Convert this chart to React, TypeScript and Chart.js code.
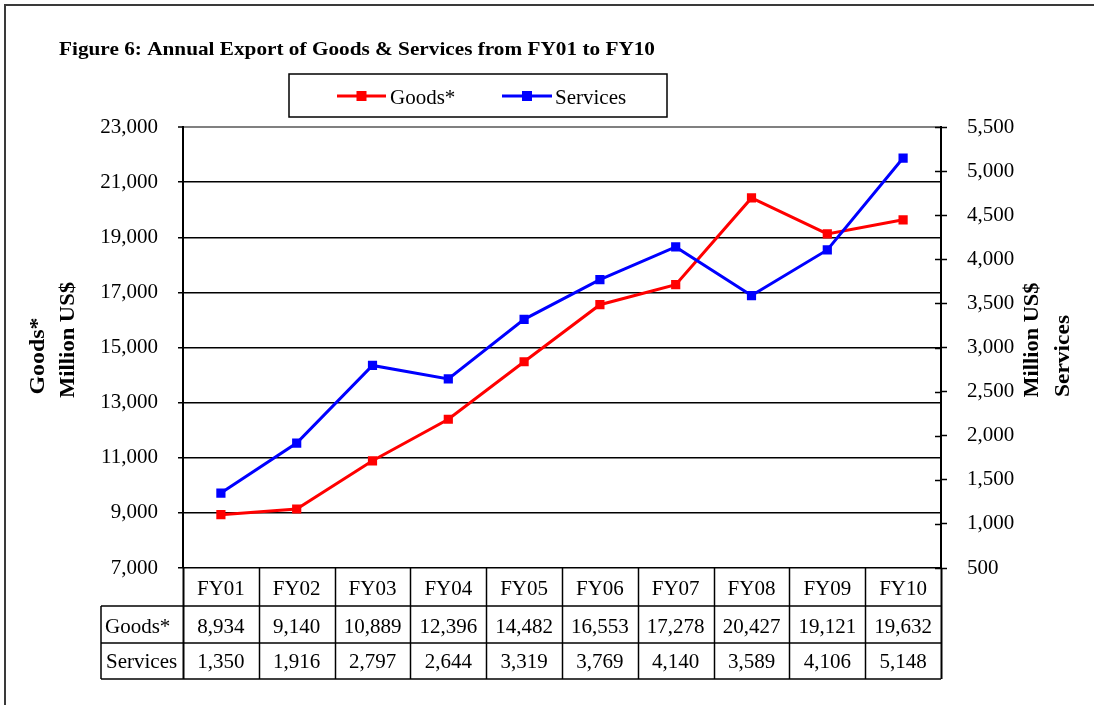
import React, { useEffect, useRef } from "react";
import { Chart, registerables } from "chart.js";

Chart.register(...registerables);

const TITLE = "Figure 6: Annual Export of Goods & Services from FY01 to FY10";
const categories = ["FY01", "FY02", "FY03", "FY04", "FY05", "FY06", "FY07", "FY08", "FY09", "FY10"];
const goods = [8934, 9140, 10889, 12396, 14482, 16553, 17278, 20427, 19121, 19632];
const services = [1350, 1916, 2797, 2644, 3319, 3769, 4140, 3589, 4106, 5148];
const seriesNames = ["Goods*", "Services"];
const leftAxis = { min: 7000, max: 23000, step: 2000 };
const rightAxis = { min: 500, max: 5500, step: 500 };
const leftTitle = ["Goods*", "Million US$"];
const rightTitle = ["Million US$", "Services"];

const RED = "#FF0000";
const BLUE = "#0000FF";
const SERIF = '"Liberation Serif", "Times New Roman", serif';

const fmt = (v: number) => v.toLocaleString("en-US");

function drawStretched(ctx: CanvasRenderingContext2D, text: string, x: number, y: number, width: number, font: string) {
  ctx.save();
  ctx.font = font;
  const w = ctx.measureText(text).width;
  ctx.translate(x, y);
  ctx.scale(width / w, 1);
  ctx.textAlign = "left";
  ctx.textBaseline = "alphabetic";
  ctx.fillText(text, 0, 0);
  ctx.restore();
}

function drawRotated(ctx: CanvasRenderingContext2D, text: string, cx: number, cy: number, length: number, font: string) {
  ctx.save();
  ctx.font = font;
  const w = ctx.measureText(text).width;
  ctx.translate(cx, cy);
  ctx.rotate(-Math.PI / 2);
  ctx.scale(length / w, 1);
  ctx.textAlign = "center";
  ctx.textBaseline = "middle";
  ctx.fillText(text, 0, 0);
  ctx.restore();
}

const pagePlugin = {
  id: "pagePlugin",
  afterDraw(chart: any) {
    const ctx: CanvasRenderingContext2D = chart.ctx;
    const { left, right, bottom } = chart.chartArea;
    const xs = chart.scales.x;
    const y1 = chart.scales.y1;
    ctx.save();
    ctx.fillStyle = "#000";
    ctx.strokeStyle = "#000";

    // outer frame (top and left)
    ctx.strokeStyle = "#3a3a3a";
    ctx.lineWidth = 2;
    ctx.beginPath();
    ctx.moveTo(5, 705);
    ctx.lineTo(5, 5);
    ctx.lineTo(1094, 5);
    ctx.stroke();

    // title
    ctx.fillStyle = "#000";
    drawStretched(ctx, TITLE, 59, 55, 596, `bold 19px ${SERIF}`);

    // legend box
    ctx.strokeStyle = "#000";
    ctx.lineWidth = 1.5;
    ctx.strokeRect(289, 74, 378, 43);
    const entries = [
      { name: seriesNames[0], color: RED, x0: 337, x1: 386, tx: 390 },
      { name: seriesNames[1], color: BLUE, x0: 502, x1: 552, tx: 555 },
    ];
    ctx.font = `21px ${SERIF}`;
    ctx.textBaseline = "alphabetic";
    ctx.textAlign = "left";
    entries.forEach((e) => {
      ctx.strokeStyle = e.color;
      ctx.lineWidth = 3;
      ctx.beginPath();
      ctx.moveTo(e.x0, 96);
      ctx.lineTo(e.x1, 96);
      ctx.stroke();
      ctx.fillStyle = e.color;
      const cx = (e.x0 + e.x1) / 2;
      ctx.fillRect(cx - 5, 91, 10, 10);
      ctx.fillStyle = "#000";
      ctx.fillText(e.name, e.tx, 104);
    });

    // axis titles
    ctx.fillStyle = "#000";
    drawRotated(ctx, leftTitle[0], 39, 356, 77, `bold 20px ${SERIF}`);
    drawRotated(ctx, leftTitle[1], 69, 340, 116, `bold 20px ${SERIF}`);
    drawRotated(ctx, rightTitle[0], 1033, 340, 115, `bold 20px ${SERIF}`);
    drawRotated(ctx, rightTitle[1], 1064, 356, 82, `bold 20px ${SERIF}`);

    // inner ticks on right axis
    ctx.strokeStyle = "#000";
    ctx.lineWidth = 1.5;
    y1.ticks.forEach((t: any) => {
      const py = Math.round(y1.getPixelForValue(t.value)) + 0.5;
      ctx.beginPath();
      ctx.moveTo(right - 6, py);
      ctx.lineTo(right, py);
      ctx.stroke();
    });

    // data table
    const n = categories.length;
    const colW = (right - left) / n;
    const rowH = [bottom, 606, 643, 679];
    const tableLeft = 101;
    ctx.lineWidth = 1.5;
    ctx.strokeStyle = "#000";
    // horizontal lines
    [rowH[1], rowH[2], rowH[3]].forEach((yy) => {
      ctx.beginPath();
      ctx.moveTo(tableLeft, yy);
      ctx.lineTo(right, yy);
      ctx.stroke();
    });
    // vertical lines
    ctx.beginPath();
    ctx.moveTo(tableLeft, rowH[1]);
    ctx.lineTo(tableLeft, rowH[3]);
    ctx.stroke();
    for (let i = 0; i <= n; i++) {
      const xx = Math.round(left + i * colW) + 0.5;
      ctx.lineWidth = i === 0 || i === n ? 2 : 1.5;
      ctx.beginPath();
      ctx.moveTo(xx, bottom);
      ctx.lineTo(xx, rowH[3]);
      ctx.stroke();
    }
    ctx.font = `21px ${SERIF}`;
    ctx.fillStyle = "#000";
    ctx.textBaseline = "alphabetic";
    ctx.textAlign = "left";
    ctx.fillText(seriesNames[0], 105, 633);
    ctx.fillText(seriesNames[1], 106, 668);
    ctx.textAlign = "center";
    categories.forEach((c, i) => {
      const cx = xs.getPixelForValue(i);
      ctx.fillText(c, cx, 595);
      ctx.fillText(fmt(goods[i]), cx, 633);
      ctx.fillText(fmt(services[i]), cx, 668);
    });
    ctx.restore();
  },
};

export default function App() {
  const ref = useRef<HTMLCanvasElement | null>(null);
  useEffect(() => {
    if (!ref.current) return;
    const chart = new Chart(ref.current, {
      type: "line",
      data: {
        labels: categories,
        datasets: [
          {
            label: seriesNames[0],
            data: goods,
            yAxisID: "y",
            borderColor: RED,
            backgroundColor: RED,
            borderWidth: 3,
            pointStyle: "rect",
            pointRadius: 6.5,
            pointBorderWidth: 0,
            pointBackgroundColor: RED,
            tension: 0,
            order: 1,
          },
          {
            label: seriesNames[1],
            data: services,
            yAxisID: "y1",
            borderColor: BLUE,
            backgroundColor: BLUE,
            borderWidth: 3,
            pointStyle: "rect",
            pointRadius: 6.5,
            pointBorderWidth: 0,
            pointBackgroundColor: BLUE,
            tension: 0,
            order: 0,
          },
        ],
      },
      options: {
        responsive: false,
        animation: false,
        devicePixelRatio: 1,
        layout: { padding: { left: 0, right: 0, top: 127, bottom: 137 } },
        plugins: { legend: { display: false }, tooltip: { enabled: false }, title: { display: false } },
        scales: {
          x: {
            type: "category",
            display: false,
            offset: true,
          },
          y: {
            position: "left",
            min: leftAxis.min,
            max: leftAxis.max,
            afterFit: (s: any) => {
              s.width = 183;
            },
            ticks: {
              stepSize: leftAxis.step,
              padding: 20,
              color: "#000",
              font: { family: SERIF, size: 21 },
              callback: (v: any) => fmt(Number(v)),
            },
            grid: {
              color: (c: any) => (c.tick && c.tick.value === leftAxis.max ? "#808080" : "#000"),
              lineWidth: (c: any) => (c.tick && c.tick.value === leftAxis.max ? 2 : 1.5),
              tickLength: 5,
              tickColor: "#000",
              tickWidth: 1.5,
            },
            border: { display: true, color: "#000", width: 2 },
          },
          y1: {
            position: "right",
            min: rightAxis.min,
            max: rightAxis.max,
            afterFit: (s: any) => {
              s.width = 153;
            },
            ticks: {
              stepSize: rightAxis.step,
              padding: 20,
              color: "#000",
              font: { family: SERIF, size: 21 },
              callback: (v: any) => fmt(Number(v)),
            },
            grid: {
              drawOnChartArea: false,
              tickLength: 6,
              tickColor: "#000",
              tickWidth: 1.5,
            },
            border: { display: true, color: "#000", width: 2 },
          },
        },
      },
      plugins: [pagePlugin],
    } as any);
    return () => chart.destroy();
  }, []);
  return (
    <div style={{ position: "fixed", left: 0, top: 0, width: 1094, height: 705, background: "#fff" }}>
      <canvas ref={ref} width={1094} height={705} style={{ width: 1094, height: 705, display: "block" }} />
    </div>
  );
}
